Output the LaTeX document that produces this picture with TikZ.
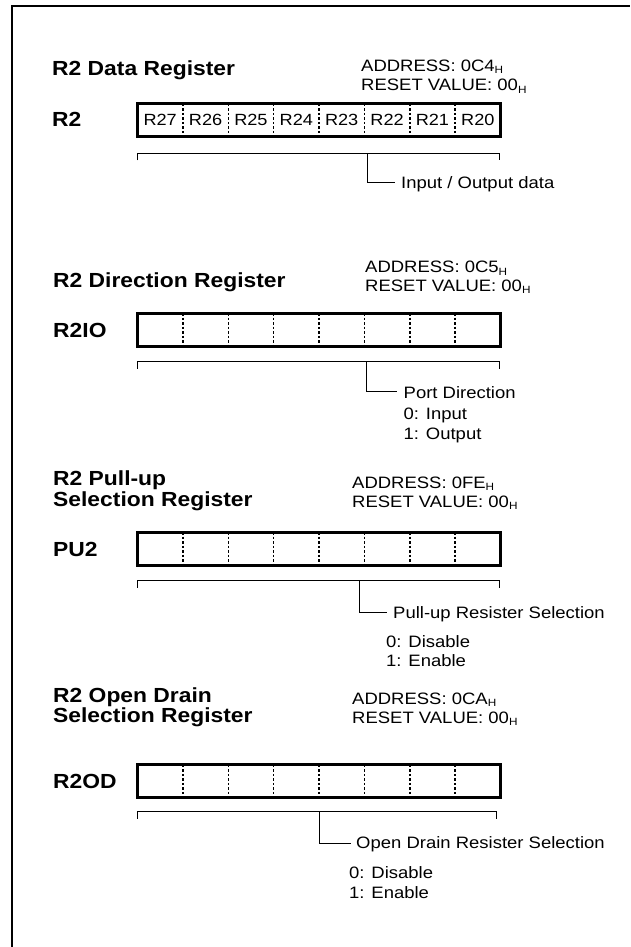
\documentclass[tikz,border=0pt]{standalone}
\usepackage{fontspec}
\setmainfont{Liberation Sans}[FakeStretch=1.12]
\usetikzlibrary{calc}
\newcommand{\hsub}{\raisebox{-2.5pt}{\fontsize{10.5}{11}\selectfont H}}
\begin{document}
\begin{tikzpicture}[x=1pt,y=-1pt,
  txt/.style={inner sep=0pt, anchor=base west, font=\fontsize{16.5}{19}\selectfont},
  ttl/.style={inner sep=0pt, anchor=base west, font=\fontsize{20.4}{22}\selectfont\bfseries},
  ttltwo/.style={inner sep=0pt, anchor=base west, align=left, font=\fontsize{20.4}{17.5}\selectfont\bfseries},
  cell/.style={inner sep=0pt, anchor=center, font=\fontsize{16.2}{19}\selectfont},
  regbox/.style={draw, line width=3pt, inner sep=0pt, outer sep=0pt, anchor=north west,
                 minimum width=363pt, minimum height=33pt},
  divider/.style={line width=1.5pt, dash pattern=on 2.5pt off 2pt},
  brk/.style={line width=1pt},
  framel/.style={line width=2pt}]
\useasboundingbox (0,0) rectangle (630,947);
\coordinate (fb) at (12,947);
\coordinate (fc) at (12,6);
\coordinate (fr) at (630,6);
\draw[framel] (fb) -- (fc) -- (fr);

% ---------------- R2 Data Register
\node[ttl] (t1) at (52,76) {R2 Data Register};
\node[txt] (a1) at (361,71.5) {ADDRESS: 0C4\hsub};
\node[txt] (v1) at (361,91) {RESET VALUE: 00\hsub};
\node[ttl] (n1) at (52,127) {R2};
\node[regbox] (b1) at (137.5,103.8) {};
\foreach \k in {1,...,7}
  \draw[divider] ($(b1.north west)!\k/8!(b1.north east)$) -- ($(b1.south west)!\k/8!(b1.south east)$);
\foreach \k/\lab in {1/R27,2/R26,3/R25,4/R24,5/R23,6/R22,7/R21,8/R20}
  \node[cell] (c1\k) at ($(b1.west)!{(2*\k-1)/16}!(b1.east)$) {\lab};
\coordinate (l1) at (137,153.3);
\coordinate (r1) at (499,153.3);
\coordinate (m1) at (367,153.3);
\coordinate (e1) at (395,182.3);
\draw[brk] ([yshift=-7pt]l1) -- (l1) -- (r1) -- ([yshift=-7pt]r1);
\draw[brk] (m1) |- (e1);
\node[txt] (d1) at (401,188) {Input / Output data};

% ---------------- R2 Direction Register
\node[ttl] (t2) at (53,287) {R2 Direction Register};
\node[txt] (a2) at (365,272.5) {ADDRESS: 0C5\hsub};
\node[txt] (v2) at (365,291) {RESET VALUE: 00\hsub};
\node[ttl] (n2) at (53,337) {R2IO};
\node[regbox] (b2) at (137.5,313.2) {};
\foreach \k in {1,...,7}
  \draw[divider] ($(b2.north west)!\k/8!(b2.north east)$) -- ($(b2.south west)!\k/8!(b2.south east)$);
\coordinate (l2) at (137,361.7);
\coordinate (r2) at (499,361.7);
\coordinate (m2) at (366.5,361.7);
\coordinate (e2) at (397,391.7);
\draw[brk] ([yshift=-7pt]l2) -- (l2) -- (r2) -- ([yshift=-7pt]r2);
\draw[brk] (m2) |- (e2);
\node[txt] (d2) at (403.5,398.6) {Port Direction};
\node[txt] (o2a) at (403.5,419) {0: Input};
\node[txt] (o2b) at (403.5,439) {1: Output};

% ---------------- R2 Pull-up Selection Register
\node[ttltwo] (t3) at (53,506) {R2 Pull-up\\Selection Register};
\node[txt] (a3) at (352,488.3) {ADDRESS: 0FE\hsub};
\node[txt] (v3) at (352,507) {RESET VALUE: 00\hsub};
\node[ttl] (n3) at (53,556) {PU2};
\node[regbox] (b3) at (137.5,532.2) {};
\foreach \k in {1,...,7}
  \draw[divider] ($(b3.north west)!\k/8!(b3.north east)$) -- ($(b3.south west)!\k/8!(b3.south east)$);
\coordinate (l3) at (137,580.7);
\coordinate (r3) at (499,580.7);
\coordinate (m3) at (359,580.7);
\coordinate (e3) at (387,612.7);
\draw[brk] ([yshift=-7pt]l3) -- (l3) -- (r3) -- ([yshift=-7pt]r3);
\draw[brk] (m3) |- (e3);
\node[txt] (d3) at (393,618) {Pull-up Resister Selection};
\node[txt] (o3a) at (386,647) {0: Disable};
\node[txt] (o3b) at (386,666) {1: Enable};

% ---------------- R2 Open Drain Selection Register
\node[ttltwo] (t4) at (53,722.5) {R2 Open Drain\\Selection Register};
\node[txt] (a4) at (352,704) {ADDRESS: 0CA\hsub};
\node[txt] (v4) at (352,723) {RESET VALUE: 00\hsub};
\node[ttl] (n4) at (53,788) {R2OD};
\node[regbox] (b4) at (137.5,764.8) {};
\foreach \k in {1,...,7}
  \draw[divider] ($(b4.north west)!\k/8!(b4.north east)$) -- ($(b4.south west)!\k/8!(b4.south east)$);
\coordinate (l4) at (137,811.7);
\coordinate (r4) at (496,811.7);
\coordinate (m4) at (319,811.7);
\coordinate (e4) at (351,843.3);
\draw[brk] ([yshift=-7pt]l4) -- (l4) -- (r4) -- ([yshift=-7pt]r4);
\draw[brk] (m4) |- (e4);
\node[txt] (d4) at (356,848.6) {Open Drain Resister Selection};
\node[txt] (o4a) at (349,878.6) {0: Disable};
\node[txt] (o4b) at (349,898.6) {1: Enable};
\end{tikzpicture}
\end{document}
